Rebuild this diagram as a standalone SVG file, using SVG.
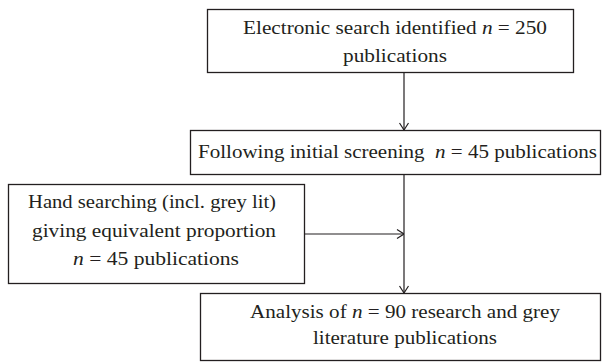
<svg xmlns="http://www.w3.org/2000/svg" width="602" height="362" viewBox="0 0 602 362">
<defs>
<marker id="arr" viewBox="0 0 10 10" refX="10" refY="5" markerWidth="10" markerHeight="10" markerUnits="userSpaceOnUse" orient="auto">
<polyline points="3,0.5 10,5 3,9.5" fill="none" stroke="#231f20" stroke-width="1.2"/>
</marker>
</defs>
<style>
.box{fill:#fff;stroke:#231f20;stroke-width:1.3}
.t{font-family:"Liberation Serif","Times New Roman",serif;font-size:19px;fill:#231f20}
.i{font-style:italic}
.c{stroke:#231f20;stroke-width:1.2;fill:none}
</style>
<g id="connectors">
<line class="c" x1="404" y1="72" x2="404" y2="130" marker-end="url(#arr)"/>
<line class="c" x1="404" y1="174" x2="404" y2="293" marker-end="url(#arr)"/>
<line class="c" x1="304" y1="234" x2="404" y2="234" marker-end="url(#arr)"/>
</g>
<g id="node1">
<rect class="box" x="207.5" y="9.5" width="366" height="63"/>
<text class="t" x="243" y="34" textLength="304" lengthAdjust="spacingAndGlyphs">Electronic search identified <tspan class="i">n</tspan> = 250</text>
<text class="t" x="343" y="62" textLength="104" lengthAdjust="spacingAndGlyphs">publications</text>
</g>
<g id="node2">
<rect class="box" x="190.5" y="130.5" width="410" height="44"/>
<text class="t" x="198" y="158" textLength="399" lengthAdjust="spacingAndGlyphs" xml:space="preserve">Following initial screening  <tspan class="i">n</tspan> = 45 publications</text>
</g>
<g id="node3">
<rect class="box" x="8.5" y="184.5" width="296" height="99"/>
<text class="t" x="28" y="208" textLength="248" lengthAdjust="spacingAndGlyphs">Hand searching (incl. grey lit)</text>
<text class="t" x="32" y="237" textLength="244" lengthAdjust="spacingAndGlyphs">giving equivalent proportion</text>
<text class="t" x="73" y="265" textLength="166" lengthAdjust="spacingAndGlyphs"><tspan class="i">n</tspan> = 45 publications</text>
</g>
<g id="node4">
<rect class="box" x="200.5" y="293.5" width="400" height="67"/>
<text class="t" x="250" y="318" textLength="310" lengthAdjust="spacingAndGlyphs">Analysis of <tspan class="i">n</tspan> = 90 research and grey</text>
<text class="t" x="313" y="344" textLength="184" lengthAdjust="spacingAndGlyphs">literature publications</text>
</g>
</svg>
